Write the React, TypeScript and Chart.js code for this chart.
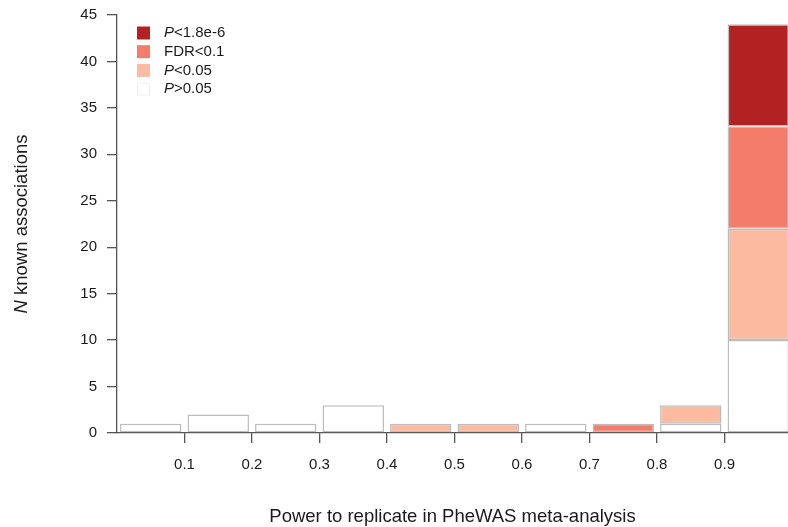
import React, { useEffect, useRef } from 'react';
import { Chart, registerables } from 'chart.js';
Chart.register(...registerables);

const binCenters = [0.05, 0.15, 0.25, 0.35, 0.45, 0.55, 0.65, 0.75, 0.85, 0.95];
const pAbove005 = [1, 2, 1, 3, 0, 0, 1, 0, 1, 10];
const pBelow005 = [0, 0, 0, 0, 1, 1, 0, 0, 2, 12];
const fdrBelow01 = [0, 0, 0, 0, 0, 0, 0, 1, 0, 11];
const pGenomeWide = [0, 0, 0, 0, 0, 0, 0, 0, 0, 11];
const xTicks = [0.1, 0.2, 0.3, 0.4, 0.5, 0.6, 0.7, 0.8, 0.9];
const yTicks = [0, 5, 10, 15, 20, 25, 30, 35, 40, 45];

const legendItems = [
  { italic: 'P', rest: '<1.8e-6', color: '#b22222' },
  { italic: '', rest: 'FDR<0.1', color: '#f47c6a' },
  { italic: 'P', rest: '<0.05', color: '#fcbba1' },
  { italic: 'P', rest: '>0.05', color: '#ffffff' },
];

const FONT = '"Liberation Sans", Arial, sans-serif';
const TEXT = '#1a1a1a';
const AXIS = '#555555';
const EDGE = '#bdbdbd';

function series(vals: number[]) {
  return binCenters.map((x, i) => ({ x, y: vals[i] ? vals[i] : null }));
}

const overlayPlugin = {
  id: 'overlay',
  afterDraw(chart: any) {
    const ctx = chart.ctx;
    const area = chart.chartArea;
    ctx.save();
    // legend
    legendItems.forEach((it, i) => {
      const y = 33 + i * 18.7;
      ctx.fillStyle = it.color;
      ctx.fillRect(137, y - 6.5, 13, 13);
      if (it.color === '#ffffff') {
        ctx.strokeStyle = '#f0f0f0';
        ctx.lineWidth = 1;
        ctx.strokeRect(137.5, y - 6, 12, 12);
      }
      ctx.fillStyle = TEXT;
      ctx.textBaseline = 'middle';
      ctx.textAlign = 'left';
      let x = 164;
      if (it.italic) {
        ctx.font = `italic 15px ${FONT}`;
        ctx.fillText(it.italic, x, y);
        x += ctx.measureText(it.italic).width;
      }
      ctx.font = `15px ${FONT}`;
      ctx.fillText(it.rest, x, y);
    });
    // x title
    ctx.font = `18.5px ${FONT}`;
    ctx.textAlign = 'center';
    ctx.textBaseline = 'middle';
    ctx.fillStyle = TEXT;
    ctx.fillText('Power to replicate in PheWAS meta-analysis', (area.left + area.right) / 2, 517);
    // y title
    ctx.translate(22, (area.top + area.bottom) / 2);
    ctx.rotate(-Math.PI / 2);
    const nPart = 'N';
    const rest = ' known associations';
    ctx.font = `italic 18.5px ${FONT}`;
    const w1 = ctx.measureText(nPart).width;
    ctx.font = `18.5px ${FONT}`;
    const w2 = ctx.measureText(rest).width;
    const start = -(w1 + w2) / 2;
    ctx.textAlign = 'left';
    ctx.font = `italic 18.5px ${FONT}`;
    ctx.fillText(nPart, start, 0);
    ctx.font = `18.5px ${FONT}`;
    ctx.fillText(rest, start + w1, 0);
    ctx.restore();
  },
};

export default function App() {
  const ref = useRef<HTMLCanvasElement>(null);
  useEffect(() => {
    if (!ref.current) return;
    const common = {
      stack: 'a',
      borderColor: EDGE,
      borderWidth: 1.5,
      borderSkipped: false,
      categoryPercentage: 1,
      barPercentage: 0.91,
    };
    const chart = new Chart(ref.current, {
      type: 'bar',
      data: {
        datasets: [
          { ...common, label: 'P>0.05', data: series(pAbove005), backgroundColor: '#ffffff' },
          { ...common, label: 'P<0.05', data: series(pBelow005), backgroundColor: '#fcbba1' },
          { ...common, label: 'FDR<0.1', data: series(fdrBelow01), backgroundColor: '#f47c6a' },
          { ...common, label: 'P<1.8e-6', data: series(pGenomeWide), backgroundColor: '#b22222' },
        ] as any,
      },
      options: {
        animation: false,
        responsive: false,
        layout: { padding: { top: 15, left: 0, right: 0, bottom: 0 } },
        plugins: { legend: { display: false }, tooltip: { enabled: false } },
        scales: {
          x: {
            type: 'linear',
            min: 0,
            max: 0.994,
            offset: false,
            grid: { offset: false, drawOnChartArea: false, tickLength: 10, color: AXIS, lineWidth: 1.3 },
            border: { color: AXIS, width: 1.3 },
            ticks: {
              color: TEXT,
              font: { family: FONT, size: 15 },
              padding: 13,
              maxRotation: 0,
              autoSkip: false,
              callback: (v: any) => Number(v).toFixed(1),
            },
            afterBuildTicks: (s: any) => {
              s.ticks = xTicks.map((v) => ({ value: v }));
            },
            afterFit: (s: any) => {
              s.height = 94;
              s.paddingLeft = 0;
              s.paddingRight = 0;
            },
          },
          y: {
            stacked: true,
            min: 0,
            max: 45,
            grid: { drawOnChartArea: false, tickLength: 10, color: AXIS, lineWidth: 1.3 },
            border: { color: AXIS, width: 1.3 },
            ticks: {
              color: TEXT,
              font: { family: FONT, size: 15 },
              padding: 10,
              autoSkip: false,
            },
            afterBuildTicks: (s: any) => {
              s.ticks = yTicks.map((v) => ({ value: v }));
            },
            afterFit: (s: any) => {
              s.width = 117;
              s.paddingTop = 0;
              s.paddingBottom = 0;
            },
          },
        },
      } as any,
      plugins: [overlayPlugin],
    });
    return () => chart.destroy();
  }, []);
  return (
    <div style={{ position: 'fixed', left: 0, top: 0, width: 788, height: 527, background: '#fff' }}>
      <canvas ref={ref} width={788} height={527} style={{ display: 'block' }} />
    </div>
  );
}
